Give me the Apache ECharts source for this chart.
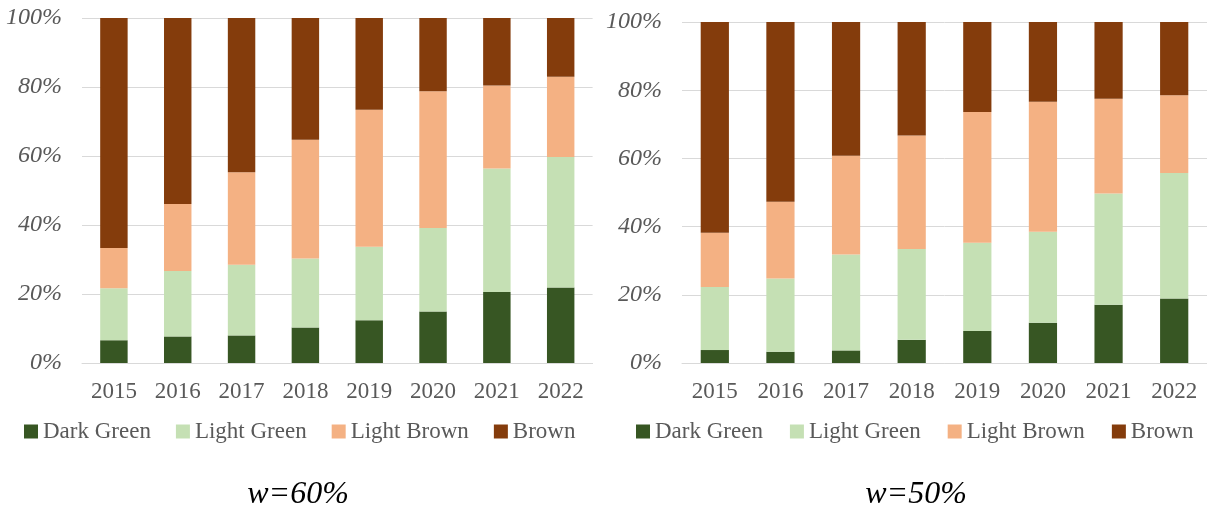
<!DOCTYPE html>
<html>
<head>
<meta charset="utf-8">
<script src="https://cdn.jsdelivr.net/npm/echarts@6/dist/echarts.min.js"></script>
<style>
html,body{margin:0;padding:0;background:#fff;}
#c{width:1207px;height:506px;}
</style>
</head>
<body>
<div id="c"></div>
<script>
const categories = ['2015','2016','2017','2018','2019','2020','2021','2022'];
const seriesNames = ['Dark Green','Light Green','Light Brown','Brown'];
const yTicks = [0,20,40,60,80,100];
const panelTitles = ['w=60%','w=50%'];

// w = 60% (left panel), percent shares
const leftDarkGreen  = [6.6, 7.7, 8.0, 10.3, 12.4, 14.9, 20.6, 21.9];
const leftLightGreen = [15.1, 19.0, 20.5, 20.0, 21.3, 24.2, 35.8, 37.8];
const leftLightBrown = [11.6, 19.4, 26.8, 34.4, 39.7, 39.7, 24.0, 23.3];
const leftBrown      = [66.7, 53.9, 44.7, 35.3, 26.6, 21.2, 19.6, 17.0];

// w = 50% (right panel), percent shares
const rightDarkGreen  = [3.8, 3.3, 3.7, 6.8, 9.4, 11.8, 17.1, 18.9];
const rightLightGreen = [18.5, 21.5, 28.1, 26.6, 25.9, 26.7, 32.6, 36.8];
const rightLightBrown = [15.9, 22.5, 29.0, 33.3, 38.3, 38.1, 27.8, 22.8];
const rightBrown      = [61.8, 52.7, 39.2, 33.3, 26.4, 23.4, 22.5, 21.5];

const colors = ['#375623','#C5E0B4','#F4B183','#843C0C'];
const FONT = '"Liberation Serif","Times New Roman",serif';
const GREY = '#595959';

const leftData = [leftDarkGreen, leftLightGreen, leftLightBrown, leftBrown];
const rightData = [rightDarkGreen, rightLightGreen, rightLightBrown, rightBrown];

function xAx(idx){
  return {
    type:'category', gridIndex:idx, data:categories,
    axisLine:{show:true, lineStyle:{color:'#d9d9d9', width:1}},
    axisTick:{show:false},
    axisLabel:{color:GREY, fontFamily:FONT, fontSize:23, margin:17}
  };
}
function yAx(idx){
  return {
    type:'value', gridIndex:idx, min:yTicks[0], max:yTicks[yTicks.length-1], interval:yTicks[1]-yTicks[0],
    axisLine:{show:false}, axisTick:{show:false},
    splitLine:{show:true, lineStyle:{color:'#d9d9d9', width:1}},
    axisLabel:{color:GREY, fontFamily:FONT, fontSize:24, fontStyle:'italic', margin:20, formatter:'{value}%'}
  };
}

const series = [];
seriesNames.forEach((n,i)=>{
  series.push({name:n, type:'bar', stack:'L', xAxisIndex:0, yAxisIndex:0, data:leftData[i],
    barWidth:'43%', itemStyle:{color:colors[i]}, emphasis:{disabled:true}});
});
seriesNames.forEach((n,i)=>{
  series.push({name:n, type:'bar', stack:'R', xAxisIndex:1, yAxisIndex:1, data:rightData[i],
    barWidth:'43%', itemStyle:{color:colors[i]}, emphasis:{disabled:true}});
});

const legendBase = {
  data:seriesNames, itemWidth:14, itemHeight:14, icon:'rect', itemGap:25,
  textStyle:{color:GREY, fontFamily:FONT, fontSize:23}, top:415, selectedMode:false
};

const chart = echarts.init(document.getElementById('c'), null, {renderer:'canvas'});
chart.setOption({
  animation:false,
  color:colors,
  grid:[
    {left:82, top:18, width:510.6, height:345},
    {left:682, top:22, width:526, height:341}
  ],
  xAxis:[xAx(0), xAx(1)],
  yAxis:[yAx(0), yAx(1)],
  legend:[
    Object.assign({}, legendBase, {left:19}),
    Object.assign({}, legendBase, {left:631, itemGap:27})
  ],
  graphic:[
    {type:'text', x:298, y:495, style:{text:panelTitles[0], fill:'#000', font:'italic 32px "Liberation Serif", serif', textAlign:'center', textVerticalAlign:'middle'}},
    {type:'text', x:916, y:495, style:{text:panelTitles[1], fill:'#000', font:'italic 32px "Liberation Serif", serif', textAlign:'center', textVerticalAlign:'middle'}}
  ],
  series:series
});
</script>
</body>
</html>
